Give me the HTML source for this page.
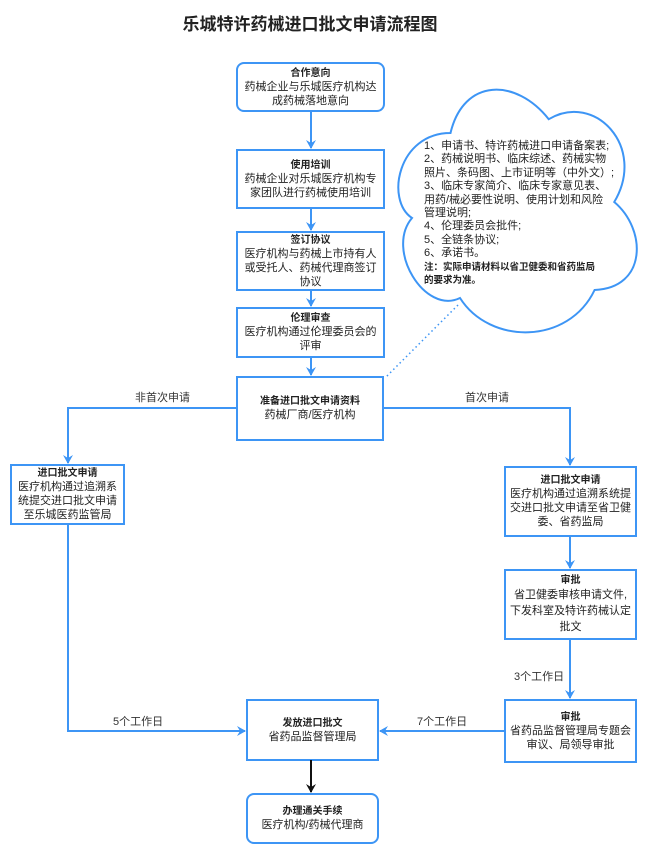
<!DOCTYPE html>
<html><head><meta charset="utf-8"><style>
body{margin:0;width:656px;height:859px;background:#fff;position:relative;overflow:hidden;font-family:"Liberation Sans","Noto Sans CJK SC",sans-serif;color:#222}
.t{position:absolute;display:flex;flex-direction:column;justify-content:center;align-items:center;text-align:center;font-size:11px;line-height:14px}
.t b{font-size:10px;line-height:13px}
.l{position:absolute;font-size:11px;color:#333;white-space:nowrap}
</style></head><body>
<div style="position:absolute;left:0;width:620px;top:10px;text-align:center;font-size:17px;font-weight:bold;">乐城特许药械进口批文申请流程图</div>
<svg width="656" height="859" style="position:absolute;left:0;top:0">
<defs>
<marker id="a" markerWidth="10" markerHeight="10" refX="8" refY="5" orient="auto" markerUnits="userSpaceOnUse"><path d="M0,0 L9,5 L0,10 L3,5 Z" fill="#3d95f5"/></marker>
<marker id="k" markerWidth="10" markerHeight="10" refX="8" refY="5" orient="auto" markerUnits="userSpaceOnUse"><path d="M0,0 L9,5 L0,10 L3,5 Z" fill="#111"/></marker>
</defs>
<g fill="#fff" stroke="#3d95f5" stroke-width="2">
<rect x="237" y="63" width="147" height="48" rx="7"/>
<rect x="237" y="150" width="147" height="58"/>
<rect x="237" y="232" width="147" height="58"/>
<rect x="237" y="308" width="147" height="49"/>
<rect x="237" y="377" width="146" height="63"/>
<rect x="11" y="465" width="113" height="59"/>
<rect x="505" y="467" width="131" height="69"/>
<rect x="505" y="570" width="131" height="69"/>
<rect x="505" y="700" width="131" height="62"/>
<rect x="247" y="700" width="131" height="60"/>
<rect x="247" y="794" width="131" height="49" rx="7"/>
<path d="M450.5,133 C398.1,133 385,200 412,218 C385,250 425,315 460,298 C489.8,345 568.4,345 594.6,290 C647,288 647,229.6 614.25,202 C647,146.8 594.6,91.6 548.75,119.2 C516,77.8 463.6,77.8 450.5,133 Z"/>
</g>
<g fill="none" stroke="#3d95f5" stroke-width="2">
<path d="M311,111 V148" marker-end="url(#a)"/>
<path d="M311,208 V230" marker-end="url(#a)"/>
<path d="M311,290 V306" marker-end="url(#a)"/>
<path d="M311,357 V375" marker-end="url(#a)"/>
<path d="M237,408 H68 V463" marker-end="url(#a)"/>
<path d="M383,408 H570 V465" marker-end="url(#a)"/>
<path d="M570,536 V568" marker-end="url(#a)"/>
<path d="M570,639 V698" marker-end="url(#a)"/>
<path d="M505,731 H380" marker-end="url(#a)"/>
<path d="M68,524 V731 H245" marker-end="url(#a)"/>
<path d="M458,305 L385,378" stroke-dasharray="1.5,3" stroke-width="1.5"/>
</g>
<path d="M311,760 V792" stroke="#111" stroke-width="2" marker-end="url(#k)"/>
</svg>
<div class="t" style="left:237px;top:63px;width:147px;height:48px"><b>合作意向</b>药械企业与乐城医疗机构达<br>成药械落地意向</div>
<div class="t" style="left:237px;top:150px;width:147px;height:58px"><b>使用培训</b>药械企业对乐城医疗机构专<br>家团队进行药械使用培训</div>
<div class="t" style="left:237px;top:232px;width:147px;height:58px"><b>签订协议</b>医疗机构与药械上市持有人<br>或受托人、药械代理商签订<br>协议</div>
<div class="t" style="left:237px;top:308px;width:147px;height:49px"><b>伦理审查</b>医疗机构通过伦理委员会的<br>评审</div>
<div class="t" style="left:237px;top:377px;width:146px;height:63px"><b>准备进口批文申请资料</b>药械厂商/医疗机构</div>
<div class="t" style="left:11px;top:465px;width:113px;height:59px"><b>进口批文申请</b>医疗机构通过追溯系<br>统提交进口批文申请<br>至乐城医药监管局</div>
<div class="t" style="left:505px;top:467px;width:131px;height:69px"><b>进口批文申请</b>医疗机构通过追溯系统提<br>交进口批文申请至省卫健<br>委、省药监局</div>
<div class="t" style="left:505px;top:570px;width:131px;height:69px;line-height:16px"><b>审批</b>省卫健委审核申请文件,<br>下发科室及特许药械认定<br>批文</div>
<div class="t" style="left:505px;top:700px;width:131px;height:62px"><b>审批</b>省药品监督管理局专题会<br>审议、局领导审批</div>
<div class="t" style="left:247px;top:700px;width:131px;height:60px"><b>发放进口批文</b>省药品监督管理局</div>
<div class="t" style="left:247px;top:794px;width:131px;height:49px"><b>办理通关手续</b>医疗机构/药械代理商</div>
<div class="l" style="left:135px;top:389px">非首次申请</div>
<div class="l" style="left:465px;top:389px">首次申请</div>
<div class="l" style="left:514px;top:668px">3个工作日</div>
<div class="l" style="left:417px;top:713px">7个工作日</div>
<div class="l" style="left:113px;top:713px">5个工作日</div>
<div style="position:absolute;left:424px;top:140px;font-size:11px;line-height:13.4px;color:#222;white-space:nowrap">1、申请书、特许药械进口申请备案表;<br>2、药械说明书、临床综述、药械实物<br>照片、条码图、上市证明等（中外文）;<br>3、临床专家简介、临床专家意见表、<br>用药/械必要性说明、使用计划和风险<br>管理说明;<br>4、伦理委员会批件;<br>5、全链条协议;<br>6、承诺书。<br><b style="font-size:9.5px">注：实际申请材料以省卫健委和省药监局<br>的要求为准。</b></div>
</body></html>
